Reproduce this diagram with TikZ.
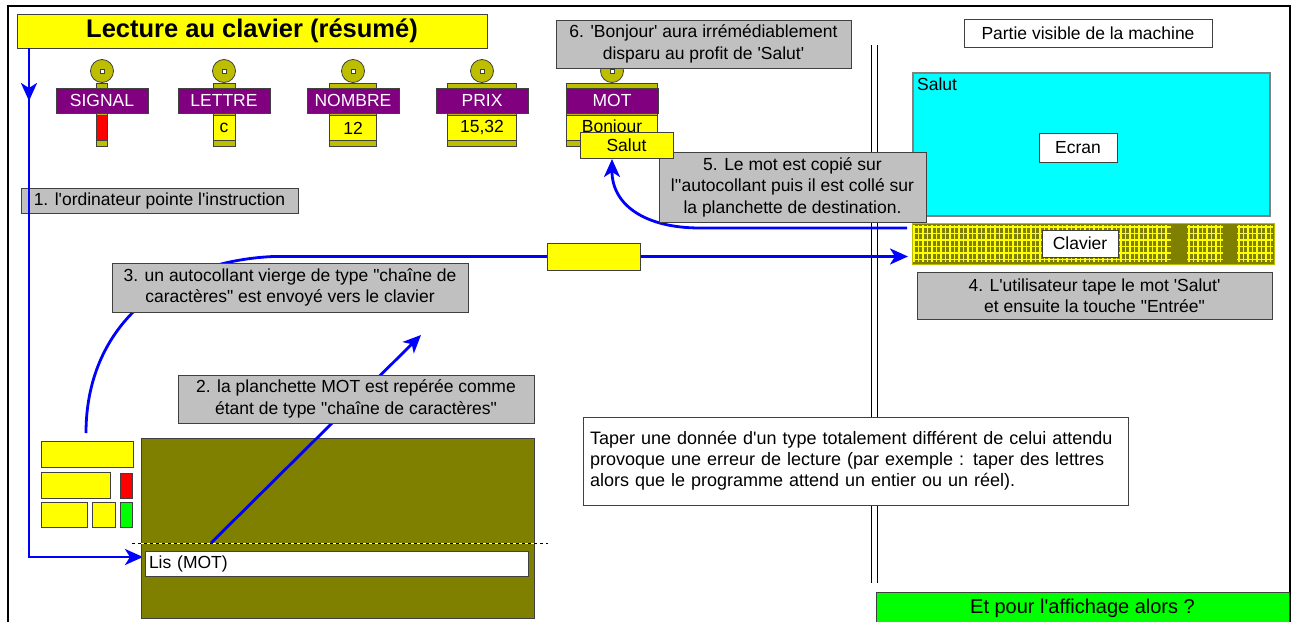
\documentclass[tikz,border=0pt]{standalone}
\usepackage{fontspec}
\newfontfamily\arialf{Liberation Sans}
\usetikzlibrary{arrows.meta}
\definecolor{cyel}{RGB}{255,255,0}
\definecolor{cgray}{RGB}{192,192,192}
\definecolor{cpurp}{RGB}{128,0,128}
\definecolor{colive}{RGB}{128,128,0}
\definecolor{coliveY}{RGB}{190,190,0}
\definecolor{ccyan}{RGB}{0,255,255}
\definecolor{cgreen}{RGB}{0,255,0}
\definecolor{cred}{RGB}{255,0,0}
\definecolor{cblue}{RGB}{0,0,255}
\definecolor{cdark}{RGB}{64,64,64}
\tikzset{
  box/.style={draw=cdark, line width=1pt, inner sep=0pt, outer sep=0pt, align=center},
  txt/.style={font=\arialf\fontsize{17.5}{21.5}\selectfont},
  graybox/.style={box, txt, fill=cgray},
  whitebox/.style={box, txt, fill=white},
  yelbox/.style={box, fill=cyel},
  flow/.style={draw=cblue, line width=2.8pt},
  tip/.style={-{Stealth[length=18pt,width=16pt,inset=5pt]}},
  thinbox/.style={draw=cdark, line width=0.8pt},
  gridline/.style={cyel, line width=1.2pt},
}
\newcommand{\planchette}[6]{%
  \draw[thinbox, fill=coliveY] (#2,71) circle[radius=11.5];
  \draw[thinbox, fill=white] ({#2-2},69) rectangle ({#2+2},73);
  \draw[thinbox, fill=coliveY] ({#2-#3},83) rectangle ({#2+#3},88);
  \draw[thinbox, fill=coliveY] ({#2-#3},113) rectangle ({#2+#3},146);
  \node[box, txt, fill=cpurp, text=white, minimum width=92pt, minimum height=25pt] (#1) at (#2,100.5) {#4};
  \node[box, txt, fill=#6, minimum width={2*#3}, minimum height=25pt] (#1v) at (#2,128) {#5};
}
\begin{document}
\begin{tikzpicture}[x=1pt,y=-1pt]
\useasboundingbox (0,0) rectangle (1298,621);
\fill[white] (0,0) rectangle (1298,621);
% frame
\draw[line width=1.2pt, black] (8,625) -- (8,6) -- (1290,6) -- (1290,625);
% title
\node[box, fill=cyel, minimum width=470pt, minimum height=34pt, font=\arialf\bfseries\fontsize{25.5}{28}\selectfont] (title) at (252,31) {Lecture au clavier (résumé)};
% planchettes
\planchette{sig}{102}{5.5}{SIGNAL}{}{cred}
\planchette{let}{224}{11}{LETTRE}{c}{cyel}
\planchette{nom}{353}{23.5}{NOMBRE}{12}{cyel}
\planchette{prix}{482}{34.5}{PRIX}{15,32}{cyel}
\planchette{mot}{612}{45.5}{MOT}{Bonjour}{cyel}
% box 6
\node[graybox, minimum width=295pt, minimum height=48pt] (b6) at (703.5,44) {6. 'Bonjour' aura irrémédiablement\\disparu au profit de 'Salut'};
% partie visible
\node[whitebox, minimum width=248pt, minimum height=28pt] (partie) at (1088,33) {Partie visible de la machine};
% double line
\coordinate (dl1) at (871,45); \coordinate (dl2) at (871,583);
\coordinate (dl3) at (877,45); \coordinate (dl4) at (877,583);
\draw[line width=1pt] (dl1) -- (dl2);
\draw[line width=1pt] (dl3) -- (dl4);
% screen
\node[draw=gray, line width=2pt, fill=ccyan, minimum width=357pt, minimum height=143pt, inner sep=0pt] (scr) at (1091.5,144.5) {};
\node[txt, anchor=north west, inner sep=0pt] (scrtxt) at (917,78) {Salut};
\node[whitebox, minimum width=78pt, minimum height=29pt] (ecran) at (1078,147.5) {Ecran};
% keyboard
\fill[colive] (912,223) rectangle (1274,264);
\foreach \x in {914,918.5,...,1170} \draw[gridline] (\x,225) -- (\x,262);
\foreach \x in {1189,1193.5,...,1222} \draw[gridline] (\x,225) -- (\x,262);
\foreach \x in {1239,1243.5,...,1273} \draw[gridline] (\x,225) -- (\x,262);
\foreach \y in {227,233.5,...,262} {
  \draw[gridline] (913,\y) -- (1171,\y);
  \draw[gridline] (1187,\y) -- (1223,\y);
  \draw[gridline] (1237,\y) -- (1273,\y);
}
\node[draw=coliveY, line width=0.8pt, minimum width=362pt, minimum height=41pt, inner sep=0pt] (kbd) at (1093,243.5) {};
\node[whitebox, minimum width=76pt, minimum height=27pt] (clav) at (1080,243.5) {Clavier};
% box 4
\node[graybox, minimum width=355pt, minimum height=47pt] (b4) at (1094.5,295.5) {4. L'utilisateur tape le mot 'Salut'\\et ensuite la touche "Entrée"};
% arrow 5
\coordinate (a5s) at (907,228);
\coordinate (a5m) at (700,228);
\coordinate (a5e) at (612,159);
\draw[flow, tip] (a5s) -- (a5m) .. controls (645,228) and (612,205) .. (a5e);
% box 5
\node[graybox, minimum width=267pt, minimum height=70pt] (b5) at (792.5,187) {5. Le mot est copié sur\\l''autocollant puis il est collé sur\\la planchette de destination.};
% salut sticker
\node[yelbox, txt, minimum width=93pt, minimum height=26pt] (salut) at (626.5,145) {Salut};
% box 1 and arrow 1
\node[graybox, minimum width=277pt, minimum height=25pt] (b1) at (159.5,200.5) {1. l'ordinateur pointe l'instruction};
\coordinate (a1s) at (29,48);
\coordinate (a1m) at (29,101);
\coordinate (a1e) at (143,557);
\draw[flow, tip] (a1s) |- (a1e);
\draw[flow, tip] (a1s) -- (a1m);
% arrow 3
\coordinate (a3s) at (86,433);
\coordinate (a3e) at (908,256.5);
\node[yelbox, minimum width=93pt, minimum height=27pt] (stk) at (593.5,256.5) {};
\draw[flow] (a3s) .. controls (86,330) and (160,262) .. (273,256.5) -- (stk.west);
\draw[flow, tip] (stk.east) -- (a3e);
\node[yelbox, minimum width=93pt, minimum height=27pt] (stk2) at (593.5,256.5) {};
\node[graybox, minimum width=356pt, minimum height=49pt] (b3) at (290,287.5) {3. un autocollant vierge de type "chaîne de\\caractères" est envoyé vers le clavier};
% board
\node[box, fill=colive, minimum width=393pt, minimum height=180pt] (board) at (337.5,528) {};
\coordinate (dsh1) at (132,543); \coordinate (dsh2) at (548,543);
\draw[white, line width=1pt] (dsh1) -- (dsh2);
\draw[black, line width=1pt, dash pattern=on 3pt off 3pt] (dsh1) -- (dsh2);
\node[whitebox, minimum width=383pt, minimum height=25pt, text width=375pt, inner xsep=4pt, align=left] (lis) at (336.5,563.5) {Lis (MOT)};
% stack
\node[yelbox, minimum width=92pt, minimum height=26pt] (s1) at (87,454.5) {};
\node[yelbox, minimum width=69pt, minimum height=26pt] (s2) at (75.5,485) {};
\node[box, fill=cred, minimum width=12pt, minimum height=25pt] (s3) at (126,485.5) {};
\node[yelbox, minimum width=46pt, minimum height=25pt] (s4) at (64,514.5) {};
\node[yelbox, minimum width=23pt, minimum height=25pt] (s5) at (103.5,514.5) {};
\node[box, fill=cgreen, minimum width=12pt, minimum height=25pt] (s6) at (126,514.5) {};
% arrow 2
\coordinate (a2s) at (211,543);
\coordinate (a2e) at (421,335);
\draw[flow, tip] (a2s) -- (a2e);
\node[graybox, minimum width=356pt, minimum height=48pt] (b2) at (356,399) {2. la planchette MOT est repérée comme\\étant de type "chaîne de caractères"};
% bottom text
\node[box, fill=white, font=\arialf\fontsize{18}{21}\selectfont, minimum height=88pt, text width=531pt, inner xsep=7pt, align=left] (note) at (855.5,461) {Taper une donnée d'un type totalement différent de celui attendu provoque une erreur de lecture (par exemple : taper des lettres alors que le programme attend un entier ou un réel).};
% green
\node[box, fill=cgreen, minimum width=413pt, minimum height=32pt, font=\arialf\fontsize{20}{22}\selectfont] (green) at (1082.5,608) {Et pour l'affichage alors ?};
\end{tikzpicture}
\end{document}
